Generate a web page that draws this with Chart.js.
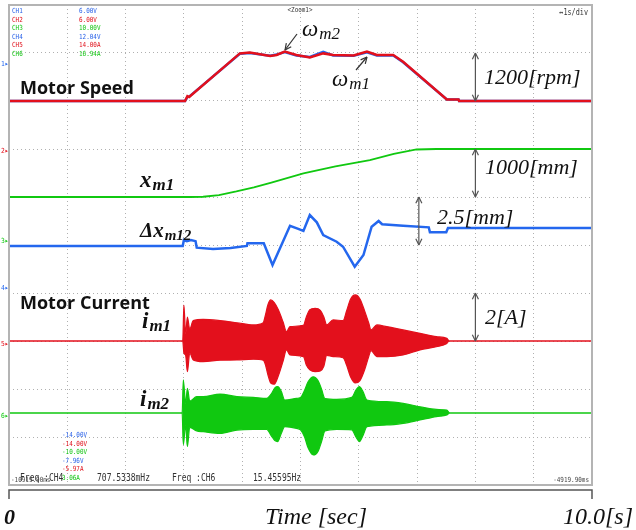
<!DOCTYPE html>
<html>
<head>
<meta charset="utf-8">
<script src="https://cdn.jsdelivr.net/npm/chart.js@4.4.1/dist/chart.umd.min.js"></script>
<style>
  html, body { margin: 0; padding: 0; background: #fff; }
  #wrap { width: 636px; height: 530px; }
</style>
</head>
<body>
<div id="wrap"><canvas id="scope" width="636" height="530"></canvas></div>
<script>
// ---- values (time in s) ----

// motor speed [rpm]
const tSpeed = [0, 3.02, 3.06, 3.09, 3.96, 4.13, 4.48, 4.59, 4.73, 4.93, 5.16, 5.39, 5.56, 5.91, 6.14, 6.31, 6.59, 6.76, 7.51, 7.71, 7.72, 10];
const wm1 = [0, 0, 120, 100, 1190, 1210, 1125, 1150, 1235, 1150, 1090, 1190, 1150, 1140, 1235, 1150, 1150, 980, 40, 40, 0, 0];
const wm2 = [0, 0, 100, 110, 1180, 1200, 1130, 1160, 1225, 1140, 1100, 1230, 1140, 1130, 1220, 1140, 1140, 970, 40, 40, 0, 0];

// position x_m1 [mm]
const tPos = [0, 3.1, 3.33, 3.6, 3.9, 4.2, 4.5, 5.05, 5.6, 6.19, 6.6, 6.99, 7.33, 10];
const xm1 = [0, 0, 5, 40, 115, 200, 300, 490, 640, 770, 900, 990, 1000, 1000];

// position difference [mm]
const tDx = [0, 2.98, 3.0, 3.05, 3.12, 3.2, 3.22, 3.5, 3.8, 4.08, 4.09, 4.37, 4.52, 4.82, 4.95, 5.05, 5.16, 5.28, 5.39, 5.62,
             5.73, 5.93, 6.08, 6.22, 6.34, 6.4, 6.76, 7.2, 7.22, 7.25, 7.5, 7.53, 10];
const dxm12 = [-0.05, -0.05, 0.26, 0.2, 0.26, 0.2, -0.14, -0.21, -0.15, -0.05, 0.09, 0.09, -1.04, 1.0, 0.85, 0.73, 1.56, 1.18, 0.52, 0.17,
               -0.09, -1.13, -0.52, 0.95, 1.25, 1.08, 1.0, 0.92, 0.66, 0.66, 0.66, 0.88, 0.88];

// motor currents [A], upper / lower envelope of the ~15 Hz waveform
const tI1 = [0, 2.98, 3.0, 3.03, 3.06, 3.1, 3.16, 3.33, 3.62, 3.91, 4.19, 4.36, 4.40, 4.44, 4.49, 4.55, 4.62, 4.70, 4.76, 4.82,
             5.05, 5.10, 5.16, 5.25, 5.34, 5.40, 5.45, 5.56, 5.73, 5.79, 5.86, 5.94, 6.02, 6.10, 6.17, 6.21, 6.31, 6.48, 6.76, 7.05,
             7.33, 7.51, 7.55, 10];
const im1Hi = [0, 0, 1.5, 0.3, 1.0, 0.5, 0.85, 0.9, 0.85, 0.76, 0.67, 0.76, 1.1, 1.5, 1.71, 1.6, 1.3, 0.8, 0.39, 0.6,
               0.65, 1.0, 1.3, 1.36, 1.28, 1.0, 0.67, 0.88, 0.85, 1.25, 1.75, 1.92, 1.75, 1.25, 0.75, 0.46, 0.67, 0.6, 0.46, 0.32,
               0.18, 0.11, 0, 0];
const im1Lo = [0, 0, -0.5, -0.6, -1.28, -0.5, -0.79, -0.86, -0.8, -0.79, -0.76, -0.8, -1.0, -1.4, -1.75, -1.8, -1.45, -0.85, -0.37, -0.58,
               -0.65, -1.0, -1.2, -1.28, -1.25, -1.05, -0.6, -0.65, -0.7, -1.0, -1.5, -1.75, -1.65, -1.2, -0.65, -0.4, -0.65, -0.65, -0.58, -0.37,
               -0.24, -0.1, 0, 0];

const tI2 = [0, 2.97, 2.99, 3.03, 3.06, 3.1, 3.22, 3.33, 3.62, 3.91, 4.19, 4.42, 4.5, 4.56, 4.61, 4.67, 4.73, 4.93, 5.0, 5.07,
             5.13, 5.22, 5.30, 5.36, 5.42, 5.62, 5.88, 5.95, 6.01, 6.07, 6.14, 6.48, 6.76, 7.05, 7.33, 7.51, 7.56, 10];
const im2Hi = [0, 0, 1.38, 0.4, 1.03, 0.5, 0.68, 0.68, 0.79, 0.68, 0.65, 0.61, 0.8, 1.05, 1.1, 0.9, 0.54, 0.61, 0.65, 0.95,
               1.3, 1.51, 1.35, 1.0, 0.6, 0.57, 0.65, 0.95, 1.1, 0.9, 0.54, 0.47, 0.4, 0.26, 0.15, 0.12, 0, 0];
const im2Lo = [0, 0, -1.32, -0.5, -1.4, -0.6, -0.75, -0.78, -0.85, -0.71, -0.68, -0.68, -0.95, -1.15, -1.19, -0.85, -0.57, -0.64, -0.7, -1.0,
               -1.45, -1.75, -1.6, -1.2, -0.75, -0.68, -0.7, -1.0, -1.19, -0.95, -0.57, -0.5, -0.43, -0.29, -0.15, -0.08, 0, 0];

// scope readouts
const chNames = ['CH1', 'CH2', 'CH3', 'CH4', 'CH5', 'CH6'];
const chTop = ['6.00V', '6.00V', '10.00V', '12.04V', '14.00A', '16.94A'];
const chBottom = ['-14.00V', '-14.00V', '-10.00V', '-7.96V', '-5.97A', '3.06A'];
const chColors = ['#2b63e8', '#e0101a', '#12c412', '#2b63e8', '#e0101a', '#12c412'];

// channel zero level (divisions from bottom) and units per division
const speedCh = { zero: 8, perDiv: 1200 };
const posCh = { zero: 6, perDiv: 1000 };
const dxCh = { zero: 5, perDiv: 2.5 };
const i1Ch = { zero: 3, perDiv: 2 };
const i2Ch = { zero: 1.5, perDiv: 2 };

const RED = '#e3101c';
const BLUE = '#2467ee';
const GREEN = '#10c810';

function toPts(ts, vs, c) {
    return ts.map((t, i) => ({ x: t, y: c.zero + vs[i] / c.perDiv }));
}

function trace(label, pts, color, width, extra) {
    return Object.assign({
        label: label,
        data: pts,
        borderColor: color,
        backgroundColor: color,
        borderWidth: width,
        pointRadius: 0,
        tension: 0,
        fill: false
    }, extra || {});
}

function arrowHead(ctx, x1, y1, x2, y2, size) {
    const a = Math.atan2(y2 - y1, x2 - x1);
    ctx.beginPath();
    ctx.moveTo(x2, y2);
    ctx.lineTo(x2 - size * Math.cos(a - 0.45), y2 - size * Math.sin(a - 0.45));
    ctx.moveTo(x2, y2);
    ctx.lineTo(x2 - size * Math.cos(a + 0.45), y2 - size * Math.sin(a + 0.45));
    ctx.stroke();
}

function arrow(ctx, x1, y1, x2, y2, both) {
    ctx.beginPath();
    ctx.moveTo(x1, y1);
    ctx.lineTo(x2, y2);
    ctx.stroke();
    arrowHead(ctx, x1, y1, x2, y2, 7);
    if (both) arrowHead(ctx, x2, y2, x1, y1, 7);
}

function subLabel(ctx, x, y, main, sub, size, weight) {
    ctx.font = 'italic ' + weight + ' ' + size + 'px "Liberation Serif"';
    ctx.fillText(main, x, y);
    const w = ctx.measureText(main).width;
    ctx.font = 'italic ' + weight + ' ' + Math.round(size * 0.72) + 'px "Liberation Serif"';
    ctx.fillText(sub, x + w + 1, y + 3);
}

function narrow(ctx, text, x, y, size, sx, color, align) {
    ctx.save();
    ctx.font = size + 'px "DejaVu Sans Mono"';
    ctx.fillStyle = color;
    ctx.textAlign = align || 'left';
    ctx.translate(x, y);
    ctx.scale(sx, 1);
    ctx.fillText(text, 0, 0);
    ctx.restore();
}

const decorations = {
    id: 'decorations',
    afterDraw(chart) {
        const ctx = chart.ctx;
        const a = chart.chartArea;
        const xs = chart.scales.x, ys = chart.scales.y;
        const px = v => xs.getPixelForValue(v);
        const py = v => ys.getPixelForValue(v);

        ctx.save();
        // scope frame
        ctx.strokeStyle = '#b4b4b4';
        ctx.lineWidth = 2;
        ctx.strokeRect(a.left, a.top, a.right - a.left, a.bottom - a.top);

        // readouts on screen
        ctx.textBaseline = 'alphabetic';
        chNames.forEach((n, i) => {
            narrow(ctx, n, a.left + 3, a.top + 8 + i * 8.6, 7, 0.85, chColors[i]);
            narrow(ctx, chTop[i], a.left + 70, a.top + 8 + i * 8.6, 7, 0.85, chColors[i]);
            narrow(ctx, chBottom[i], a.left + 53, 437 + i * 8.6, 7, 0.85, chColors[i]);
        });
        narrow(ctx, '<Zoom1>', 300, 12, 7, 0.85, '#333', 'center');
        narrow(ctx, '\u21941s/div', a.right - 4, 15, 8, 0.85, '#333', 'right');
        narrow(ctx, '-10919.90ms', a.left + 2, 482, 7, 0.85, '#444');
        narrow(ctx, 'Freq :CH4', a.left + 11, 481, 10, 0.8, '#333');
        narrow(ctx, '707.5338mHz', 97, 481, 10, 0.8, '#333');
        narrow(ctx, 'Freq :CH6', 172, 481, 10, 0.8, '#333');
        narrow(ctx, '15.45595Hz', 253, 481, 10, 0.8, '#333');
        narrow(ctx, '-4919.90ms', a.right - 3, 482, 7, 0.85, '#444', 'right');

        // channel markers on the left edge
        [[63, '1', BLUE], [150, '2', RED], [240, '3', GREEN], [287, '4', BLUE], [343, '5', RED], [415, '6', GREEN]]
            .forEach(m => narrow(ctx, m[1] + '\u25B8', 1, m[0] + 3, 7, 0.9, m[2]));

        // section titles
        ctx.fillStyle = '#111';
        ctx.font = 'bold 18px "Open Sans"';
        ctx.fillText('Motor Speed', 20, 94);
        ctx.fillText('Motor Current', 20, 309);

        // trace labels
        subLabel(ctx, 302, 36, '\u03C9', 'm2', 23, 'normal');
        subLabel(ctx, 332, 86, '\u03C9', 'm1', 23, 'normal');
        subLabel(ctx, 140, 187, 'x', 'm1', 23, 'bold');
        subLabel(ctx, 140, 237, '\u0394x', 'm12', 21, 'bold');
        subLabel(ctx, 142, 328, 'i', 'm1', 23, 'bold');
        subLabel(ctx, 140, 406, 'i', 'm2', 23, 'bold');

        ctx.font = 'italic 22px "Liberation Serif"';
        ctx.fillText('1200[rpm]', 484, 84);
        ctx.fillText('1000[mm]', 485, 174);
        ctx.fillText('2.5[mm]', 437, 224);
        ctx.fillText('2[A]', 485, 324);

        // pointer arrows
        ctx.strokeStyle = '#333';
        ctx.lineWidth = 1.2;
        arrow(ctx, 297, 34, 285, 50, false);
        arrow(ctx, 356, 70, 367, 57, false);

        // scale arrows
        ctx.strokeStyle = '#555';
        arrow(ctx, px(8.0), py(speedCh.zero), px(8.0), py(speedCh.zero + 1), true);
        arrow(ctx, px(8.0), py(posCh.zero), px(8.0), py(posCh.zero + 1), true);
        arrow(ctx, px(7.03), py(dxCh.zero), px(7.03), py(dxCh.zero + 1), true);
        arrow(ctx, px(8.0), py(i1Ch.zero), px(8.0), py(i1Ch.zero + 1), true);

        // time bracket
        ctx.strokeStyle = '#555';
        ctx.lineWidth = 1.5;
        ctx.beginPath();
        ctx.moveTo(a.left, 499);
        ctx.lineTo(a.left, 490);
        ctx.lineTo(a.right, 490);
        ctx.lineTo(a.right, 499);
        ctx.stroke();

        ctx.fillStyle = '#111';
        ctx.font = 'italic bold 22px "Liberation Serif"';
        ctx.fillText('0', 4, 524);
        ctx.textAlign = 'center';
        ctx.font = 'italic 24px "Liberation Serif"';
        ctx.fillText('Time [sec]', 316, 524);
        ctx.textAlign = 'right';
        ctx.fillText('10.0[s]', 633, 524);
        ctx.restore();
    }
};

const envelope = { cubicInterpolationMode: 'monotone' };

new Chart(document.getElementById('scope'), {
    type: 'line',
    data: {
        datasets: [
            trace('wm1', toPts(tSpeed, wm1, speedCh), RED, 2.5),
            trace('wm2', toPts(tSpeed, wm2, speedCh), BLUE, 2.5),
            trace('xm1', toPts(tPos, xm1, posCh), GREEN, 1.8),
            trace('dxm12', toPts(tDx, dxm12, dxCh), BLUE, 2.5),
            trace('im1 hi', toPts(tI1, im1Hi, i1Ch), RED, 1.2, Object.assign({ fill: '+1' }, envelope)),
            trace('im1 lo', toPts(tI1, im1Lo, i1Ch), RED, 1.2, envelope),
            trace('im2 hi', toPts(tI2, im2Hi, i2Ch), GREEN, 1.2, Object.assign({ fill: '+1' }, envelope)),
            trace('im2 lo', toPts(tI2, im2Lo, i2Ch), GREEN, 1.2, envelope)
        ]
    },
    options: {
        responsive: false,
        animation: false,
        layout: { padding: { left: 9, top: 5, right: 44, bottom: 45 } },
        plugins: {
            legend: { display: false },
            tooltip: { enabled: false }
        },
        scales: {
            x: {
                type: 'linear',
                min: 0,
                max: 10,
                ticks: { display: false, stepSize: 1 },
                grid: { color: '#b0b0b0', drawTicks: false },
                border: { display: false, dash: [1, 3] }
            },
            y: {
                type: 'linear',
                min: 0,
                max: 10,
                ticks: { display: false, stepSize: 1 },
                grid: { color: '#b0b0b0', drawTicks: false },
                border: { display: false, dash: [1, 3] }
            }
        }
    },
    plugins: [decorations]
});
</script>
</body>
</html>
